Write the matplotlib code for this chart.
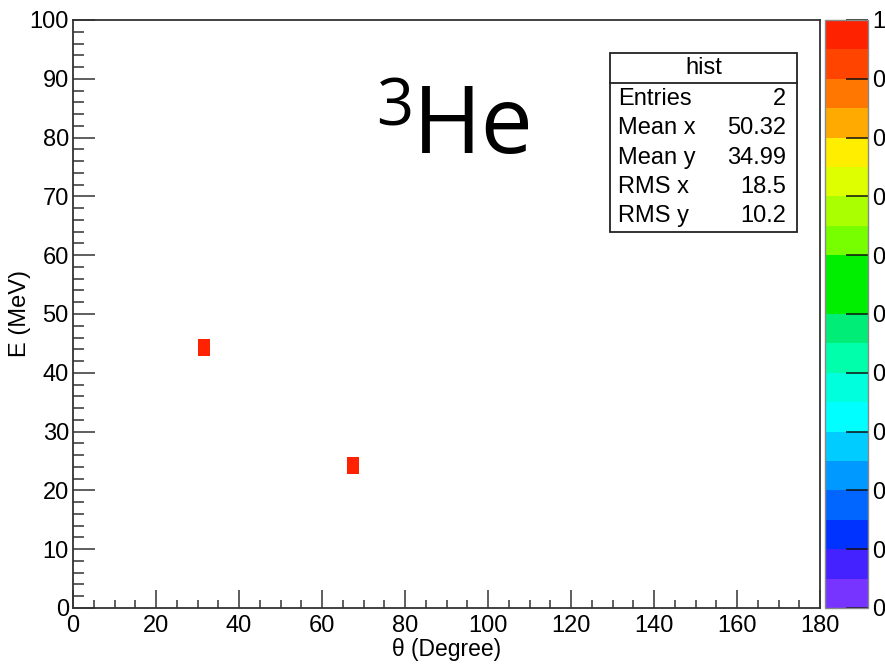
import matplotlib
matplotlib.use("Agg")
import matplotlib.pyplot as plt
import numpy as np
from matplotlib.colors import ListedColormap, Normalize
from matplotlib.patches import Rectangle
from matplotlib.lines import Line2D
from matplotlib.ticker import MultipleLocator, FuncFormatter

# entries of the histogram
theta = [31.82, 68.82]
energy = [45.19, 24.79]

# binning
xedges = np.linspace(0, 180, 61)
yedges = np.linspace(0, 100, 36)

# ROOT-like palette, bottom to top
palette = ['#7733ff', '#4422ff', '#0033ff', '#0066ff', '#0099ff',
           '#00ccff', '#00ffff', '#00ffdd', '#00ffaa', '#00ee77',
           '#00ee00', '#00ee00', '#77ff00', '#aaff00', '#ddff00',
           '#ffee00', '#ffaa00', '#ff7700', '#ff4400', '#ff2200']

plt.rcParams['font.family'] = ['Liberation Sans', 'DejaVu Sans']

W, H = 885, 664
fig = plt.figure(figsize=(W / 100, H / 100), dpi=100)

def fx(px):
    return px / W

def fy(py):
    return 1 - py / H

ax = fig.add_axes([fx(73), fy(608), fx(820) - fx(73), fy(20) - fy(608)])
cax = fig.add_axes([fx(825), fy(608), fx(868) - fx(825), fy(20) - fy(608)])

counts, _, _ = np.histogram2d(theta, energy, bins=[xedges, yedges])
counts = np.ma.masked_equal(counts.T, 0)
cmap = ListedColormap(palette)
mesh = ax.pcolormesh(xedges, yedges, counts, cmap=cmap, norm=Normalize(0, 1))

ax.set_xlim(0, 180)
ax.set_ylim(0, 100)
ax.xaxis.set_major_locator(MultipleLocator(20))
ax.xaxis.set_minor_locator(MultipleLocator(5))
ax.yaxis.set_major_locator(MultipleLocator(10))
ax.yaxis.set_minor_locator(MultipleLocator(2))
ax.tick_params(axis='x', which='major', direction='in', length=12.7, width=1.1,
               color='#333333', labelsize=17, pad=5)
ax.tick_params(axis='x', which='minor', direction='in', length=6, width=1.1, color='#333333')
ax.tick_params(axis='y', which='major', direction='in', length=15.8, width=1.1,
               color='#333333', labelsize=17, pad=3)
ax.tick_params(axis='y', which='minor', direction='in', length=7.9, width=1.1, color='#333333')
for s in ax.spines.values():
    s.set_color('#333333')
    s.set_linewidth(1.3)
ax.set_xlabel('θ (Degree)', fontsize=16.5, loc='center', labelpad=1)
ax.set_ylabel('E (MeV)', fontsize=17, loc='center', labelpad=-1)

cb = fig.colorbar(mesh, cax=cax)
cb.set_ticks(np.linspace(0, 1, 11))
cb.ax.yaxis.set_major_formatter(FuncFormatter(lambda v, p: str(int(v + 1e-9))))
cb.ax.tick_params(direction='in', length=16, width=1.1, color='#111111',
                  labelsize=17, pad=3)
cb.outline.set_edgecolor('#888888')
cb.outline.set_linewidth(1.0)

# stats box
bx0, bx1, by0, by1 = 610, 797, 53, 232
fig.patches.append(Rectangle((fx(bx0), fy(by1)), fx(bx1) - fx(bx0), fy(by0) - fy(by1),
                             transform=fig.transFigure, facecolor='white',
                             edgecolor='#222222', linewidth=1.3, zorder=5))
fig.lines.append(Line2D([fx(bx0), fx(bx1)], [fy(83), fy(83)], transform=fig.transFigure,
                        color='#222222', linewidth=1.3, zorder=6))
fig.text(fx(704), fy(68), 'hist', ha='center', va='center', fontsize=17, zorder=7)

mx = np.mean(theta)
my = np.mean(energy)
rx = np.std(theta)
ry = np.std(energy)
rows = [('Entries', str(len(theta))),
        ('Mean x', '{:.4g}'.format(mx)),
        ('Mean y', '{:.4g}'.format(my)),
        ('RMS x', '{:.4g}'.format(rx)),
        ('RMS y', '{:.4g}'.format(ry))]
for i, (name, val) in enumerate(rows):
    yy = 99 + i * 29.3
    fig.text(fx(618), fy(yy), name, ha='left', va='center', fontsize=17, zorder=7)
    fig.text(fx(786), fy(yy), val, ha='right', va='center', fontsize=17, zorder=7)

# particle label
fig.text(fx(413), fy(153), 'He', ha='left', va='baseline', fontsize=67,
         family='Open Sans', zorder=7)
fig.text(fx(376), fy(125), '3', ha='left', va='baseline', fontsize=47,
         family='Open Sans', zorder=7)

fig.savefig('out.png', dpi=100)
